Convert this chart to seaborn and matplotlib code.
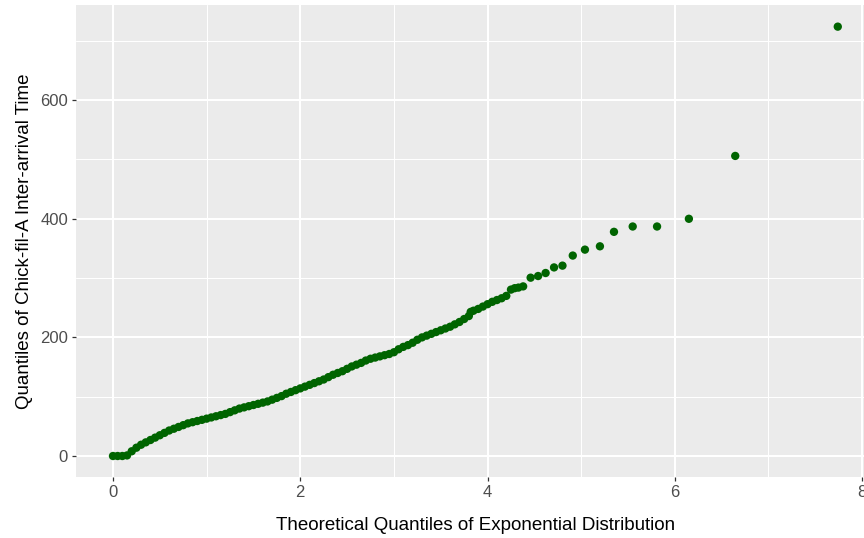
import matplotlib
matplotlib.use("Agg")
import matplotlib.pyplot as plt
from matplotlib.ticker import MultipleLocator
import seaborn as sns
import pandas as pd

# Theoretical exponential quantiles (x) and sample inter-arrival quantiles (y)
theoretical = [
    0.00, 0.05, 0.10, 0.15, 0.20, 0.25, 0.30, 0.35, 0.40, 0.45,
    0.50, 0.55, 0.60, 0.65, 0.70, 0.75, 0.80, 0.85, 0.90, 0.95,
    1.00, 1.05, 1.10, 1.15, 1.20, 1.25, 1.30, 1.35, 1.40, 1.45,
    1.50, 1.55, 1.60, 1.65, 1.70, 1.75, 1.80, 1.85, 1.90, 1.95,
    2.00, 2.05, 2.10, 2.15, 2.20, 2.25, 2.30, 2.35, 2.40, 2.45,
    2.50, 2.55, 2.60, 2.65, 2.70, 2.75, 2.80, 2.85, 2.90, 2.95,
    3.00, 3.05, 3.10, 3.15, 3.20, 3.25, 3.30, 3.35, 3.40, 3.45,
    3.50, 3.55, 3.60, 3.65, 3.70, 3.75, 3.80, 3.82, 3.85, 3.90,
    3.95, 4.00, 4.05, 4.10, 4.15, 4.20, 4.25, 4.29, 4.33, 4.38,
    4.46, 4.54, 4.62, 4.71, 4.80, 4.91, 5.04, 5.20, 5.35, 5.55,
    5.81, 6.15, 6.645, 7.74,
]
sample = [
    0, 0, 0, 1, 8, 14, 19, 23, 27, 31,
    35, 39, 43, 46, 49, 52, 55, 57, 59, 61,
    63, 65, 67, 69, 71, 74, 77, 80, 82, 84,
    86, 88, 90, 92, 95, 98, 101, 105, 108, 111,
    114, 117, 120, 123, 126, 129, 133, 137, 140, 143,
    147, 151, 154, 157, 161, 164, 166, 168, 170, 172,
    175, 180, 184, 187, 191, 196, 200, 203, 206, 209,
    212, 215, 218, 222, 226, 231, 236, 243, 245, 248,
    252, 256, 260, 263, 266, 270, 280.6, 283, 284, 286,
    300.7, 303.5, 308.6, 318, 321, 338, 348, 353.6, 378, 387,
    387, 400, 506, 724,
]

df = pd.DataFrame({"theoretical": theoretical, "sample": sample})

sns.set_theme(style="darkgrid")
plt.rcParams["font.family"] = ["Liberation Sans", "DejaVu Sans"]

fig = plt.figure(figsize=(8.64, 5.38), dpi=100)
ax = fig.add_axes([76 / 864, 61 / 538, 788 / 864, 472 / 538])
ax.set_facecolor("#EBEBEB")

sns.scatterplot(data=df, x="theoretical", y="sample", ax=ax,
                color="#006400", s=36, edgecolor="none", linewidth=0, zorder=3)

ax.set_xlim(-0.395, 8.02)
ax.set_ylim(-35.4, 760.5)

ax.xaxis.set_major_locator(MultipleLocator(2))
ax.xaxis.set_minor_locator(MultipleLocator(1))
ax.yaxis.set_major_locator(MultipleLocator(200))
ax.yaxis.set_minor_locator(MultipleLocator(100))

ax.grid(which="major", color="white", linewidth=1.45)
ax.grid(which="minor", color="white", linewidth=0.75)
ax.set_axisbelow(True)
for sp in ax.spines.values():
    sp.set_visible(False)

ax.tick_params(which="major", length=3.2, width=0.9, color="#333333",
               labelcolor="#4D4D4D", labelsize=12, pad=2.5,
               bottom=True, left=True)
ax.tick_params(which="minor", length=0, bottom=False, left=False)

ax.set_xlabel("Theoretical Quantiles of Exponential Distribution",
              fontsize=13.5, color="black", labelpad=3)
ax.set_ylabel("Quantiles of Chick-fil-A Inter-arrival Time",
              fontsize=13.5, color="black", labelpad=5)
ax.xaxis.set_label_coords(0.507, -0.085)

fig.savefig("out.png", dpi=100)
